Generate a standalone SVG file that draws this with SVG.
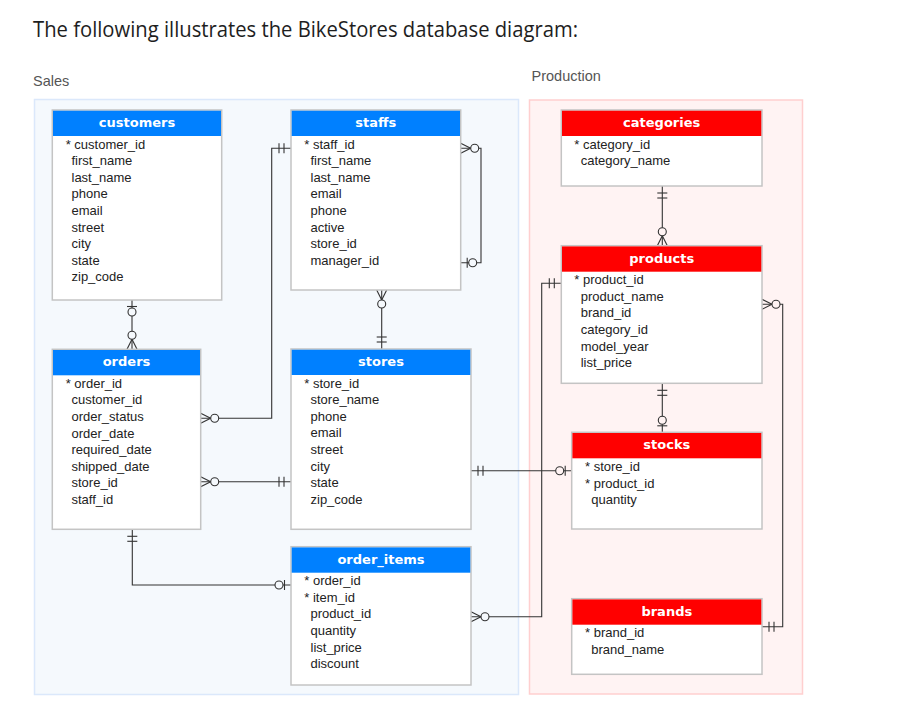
<svg xmlns="http://www.w3.org/2000/svg" xmlns:xlink="http://www.w3.org/1999/xlink" width="898" height="706" viewBox="0 0 898 706">
<style>
.title{font-family:"Open Sans","Noto Sans","Liberation Sans",sans-serif;font-size:21px;fill:#1e1e1e}
.area{font-family:"Liberation Sans",Arial,sans-serif;font-size:14.5px;fill:#555}
.hdr{font-family:"DejaVu Sans",Verdana,sans-serif;font-size:13px;font-weight:bold;fill:#fff;text-anchor:middle}
.fld{font-family:"Liberation Sans",Arial,sans-serif;font-size:13px;fill:#222}
.box{fill:#fff;stroke:#c4c4c4;stroke-width:1.5}
.hb{fill:#0080ff}
.hr{fill:#ff0000}
.ln{fill:none;stroke:#333;stroke-width:1.1}
.mk{stroke:#333;stroke-width:1.1;fill:#f5f9fd}
.mkp{stroke:#333;stroke-width:1.1;fill:#fff3f3}
</style>
<defs>
<g id="m-one"><line x1="7" y1="-5" x2="7" y2="5"/><line x1="12" y1="-5" x2="12" y2="5"/></g>
<g id="m-zero-one"><line x1="6.5" y1="-5" x2="6.5" y2="5"/><circle cx="12" cy="0" r="4"/></g>
<g id="m-zero-many"><line x1="0" y1="-5" x2="10" y2="0"/><line x1="0" y1="5" x2="10" y2="0"/><circle cx="14" cy="0" r="4"/></g>
</defs>
<rect width="898" height="706" fill="#fff"/>
<text class="title" x="33" y="37" textLength="545" lengthAdjust="spacingAndGlyphs">The following illustrates the BikeStores database diagram:</text>
<g id="area-sales">
<rect x="34.5" y="99.5" width="484" height="595" fill="#f5f9fd" stroke="#dbe8fb" stroke-width="1.5"/>
<text class="area" x="33" y="86">Sales</text>
</g>
<g id="area-production">
<rect x="529.5" y="100" width="273" height="594" fill="#fff3f3" stroke="#ffcfcf" stroke-width="1.5"/>
<text class="area" x="531.5" y="80.7">Production</text>
</g>
<g id="connectors">
<path class="ln" d="M132 300V349.3"/>
<path class="ln" d="M291 148.3H271.7V418.3H200.7"/>
<path class="ln" d="M460.7 148.3H481V262.7H460.7"/>
<path class="ln" d="M381.7 290V349"/>
<path class="ln" d="M200.7 481.7H291"/>
<path class="ln" d="M132.3 529.3V585H291"/>
<path class="ln" d="M471 616.7H541.7V283.3H561.3"/>
<path class="ln" d="M471 470.7H571.7"/>
<path class="ln" d="M662.3 186V245.7"/>
<path class="ln" d="M662.3 383.3V432.3"/>
<path class="ln" d="M762 304.3H782.7V626.7H762"/>
<use class="mk" xlink:href="#m-zero-one" href="#m-zero-one" transform="translate(132 300) rotate(90)"/>
<use class="mk" xlink:href="#m-zero-many" href="#m-zero-many" transform="translate(132 349.3) rotate(-90)"/>
<use class="mk" xlink:href="#m-one" href="#m-one" transform="translate(291 148.3) rotate(180)"/>
<use class="mk" xlink:href="#m-zero-many" href="#m-zero-many" transform="translate(200.7 418.3)"/>
<use class="mk" xlink:href="#m-zero-many" href="#m-zero-many" transform="translate(460.7 148.3)"/>
<use class="mk" xlink:href="#m-zero-one" href="#m-zero-one" transform="translate(460.7 262.7)"/>
<use class="mk" xlink:href="#m-zero-many" href="#m-zero-many" transform="translate(381.7 290) rotate(90)"/>
<use class="mk" xlink:href="#m-one" href="#m-one" transform="translate(381.7 349) rotate(-90)"/>
<use class="mk" xlink:href="#m-zero-many" href="#m-zero-many" transform="translate(200.7 481.7)"/>
<use class="mk" xlink:href="#m-one" href="#m-one" transform="translate(291 481.7) rotate(180)"/>
<use class="mk" xlink:href="#m-one" href="#m-one" transform="translate(132.3 529.3) rotate(90)"/>
<use class="mk" xlink:href="#m-zero-one" href="#m-zero-one" transform="translate(291 585) rotate(180)"/>
<use class="mk" xlink:href="#m-zero-many" href="#m-zero-many" transform="translate(471 616.7)"/>
<use class="mkp" xlink:href="#m-one" href="#m-one" transform="translate(561.3 283.3) rotate(180)"/>
<use class="mk" xlink:href="#m-one" href="#m-one" transform="translate(471 470.7)"/>
<use class="mkp" xlink:href="#m-zero-one" href="#m-zero-one" transform="translate(571.7 470.7) rotate(180)"/>
<use class="mkp" xlink:href="#m-one" href="#m-one" transform="translate(662.3 186) rotate(90)"/>
<use class="mkp" xlink:href="#m-zero-many" href="#m-zero-many" transform="translate(662.3 245.7) rotate(-90)"/>
<use class="mkp" xlink:href="#m-one" href="#m-one" transform="translate(662.3 383.3) rotate(90)"/>
<use class="mkp" xlink:href="#m-zero-one" href="#m-zero-one" transform="translate(662.3 432.3) rotate(-90)"/>
<use class="mkp" xlink:href="#m-zero-many" href="#m-zero-many" transform="translate(762 304.3)"/>
<use class="mkp" xlink:href="#m-one" href="#m-one" transform="translate(762 626.7)"/>
</g>
<g id="customers">
<rect class="box" x="52.3" y="110" width="169.4" height="190"/>
<rect class="hb" x="53" y="110.7" width="168" height="25.3"/>
<text class="hdr" x="137" y="127">customers</text>
<text class="fld" x="65.7" y="148.5">* customer_id</text>
<text class="fld" x="71.5" y="165.1">first_name</text>
<text class="fld" x="71.5" y="181.7">last_name</text>
<text class="fld" x="71.5" y="198.3">phone</text>
<text class="fld" x="71.5" y="214.9">email</text>
<text class="fld" x="71.5" y="231.5">street</text>
<text class="fld" x="71.5" y="248.1">city</text>
<text class="fld" x="71.5" y="264.7">state</text>
<text class="fld" x="71.5" y="281.3">zip_code</text>
</g>
<g id="staffs">
<rect class="box" x="291" y="110" width="169.7" height="180"/>
<rect class="hb" x="291.7" y="110.7" width="168.3" height="25.3"/>
<text class="hdr" x="375.8" y="127">staffs</text>
<text class="fld" x="304.3" y="148.5">* staff_id</text>
<text class="fld" x="310.5" y="165.1">first_name</text>
<text class="fld" x="310.5" y="181.7">last_name</text>
<text class="fld" x="310.5" y="198.3">email</text>
<text class="fld" x="310.5" y="214.9">phone</text>
<text class="fld" x="310.5" y="231.5">active</text>
<text class="fld" x="310.5" y="248.1">store_id</text>
<text class="fld" x="310.5" y="264.7">manager_id</text>
</g>
<g id="orders">
<rect class="box" x="52.3" y="349.3" width="148.4" height="180"/>
<rect class="hb" x="53" y="350" width="147" height="25.3"/>
<text class="hdr" x="126.5" y="366.3">orders</text>
<text class="fld" x="65.7" y="387.8">* order_id</text>
<text class="fld" x="71.5" y="404.4">customer_id</text>
<text class="fld" x="71.5" y="421">order_status</text>
<text class="fld" x="71.5" y="437.6">order_date</text>
<text class="fld" x="71.5" y="454.2">required_date</text>
<text class="fld" x="71.5" y="470.8">shipped_date</text>
<text class="fld" x="71.5" y="487.4">store_id</text>
<text class="fld" x="71.5" y="504">staff_id</text>
</g>
<g id="stores">
<rect class="box" x="291" y="349" width="180" height="180.3"/>
<rect class="hb" x="291.7" y="349.7" width="178.6" height="25.3"/>
<text class="hdr" x="381" y="366">stores</text>
<text class="fld" x="304.3" y="387.5">* store_id</text>
<text class="fld" x="310.5" y="404.1">store_name</text>
<text class="fld" x="310.5" y="420.7">phone</text>
<text class="fld" x="310.5" y="437.3">email</text>
<text class="fld" x="310.5" y="453.9">street</text>
<text class="fld" x="310.5" y="470.5">city</text>
<text class="fld" x="310.5" y="487.1">state</text>
<text class="fld" x="310.5" y="503.7">zip_code</text>
</g>
<g id="order_items">
<rect class="box" x="291" y="546.7" width="180" height="138.3"/>
<rect class="hb" x="291.7" y="547.4" width="178.6" height="25.3"/>
<text class="hdr" x="381" y="563.7">order_items</text>
<text class="fld" x="304.3" y="585.2">* order_id</text>
<text class="fld" x="304.3" y="601.8">* item_id</text>
<text class="fld" x="310.5" y="618.4">product_id</text>
<text class="fld" x="310.5" y="635">quantity</text>
<text class="fld" x="310.5" y="651.6">list_price</text>
<text class="fld" x="310.5" y="668.2">discount</text>
</g>
<g id="categories">
<rect class="box" x="561.3" y="110" width="200.7" height="76"/>
<rect class="hr" x="562" y="110.7" width="199.3" height="25.3"/>
<text class="hdr" x="661.7" y="127">categories</text>
<text class="fld" x="574.3" y="148.5">* category_id</text>
<text class="fld" x="580.7" y="165.1">category_name</text>
</g>
<g id="products">
<rect class="box" x="561.3" y="245.7" width="200.7" height="137.6"/>
<rect class="hr" x="562" y="246.4" width="199.3" height="25.3"/>
<text class="hdr" x="661.7" y="262.7">products</text>
<text class="fld" x="574.3" y="284.2">* product_id</text>
<text class="fld" x="580.7" y="300.8">product_name</text>
<text class="fld" x="580.7" y="317.4">brand_id</text>
<text class="fld" x="580.7" y="334">category_id</text>
<text class="fld" x="580.7" y="350.6">model_year</text>
<text class="fld" x="580.7" y="367.2">list_price</text>
</g>
<g id="stocks">
<rect class="box" x="571.7" y="432.3" width="190.3" height="96.7"/>
<rect class="hr" x="572.4" y="433" width="188.9" height="25.3"/>
<text class="hdr" x="666.8" y="449.3">stocks</text>
<text class="fld" x="585" y="471">* store_id</text>
<text class="fld" x="585" y="487.6">* product_id</text>
<text class="fld" x="591.3" y="504.2">quantity</text>
</g>
<g id="brands">
<rect class="box" x="571.7" y="598.7" width="190.3" height="75.6"/>
<rect class="hr" x="572.4" y="599.4" width="188.9" height="25.3"/>
<text class="hdr" x="666.8" y="615.7">brands</text>
<text class="fld" x="585" y="637.3">* brand_id</text>
<text class="fld" x="591.3" y="653.9">brand_name</text>
</g>
</svg>
